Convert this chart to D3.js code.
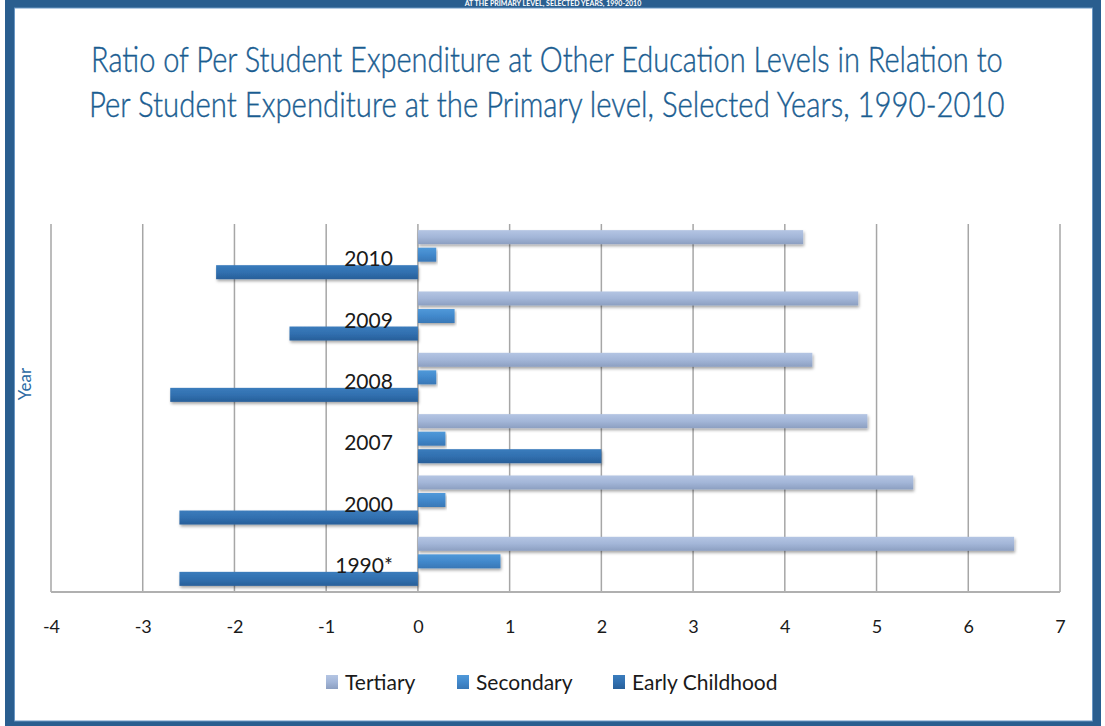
<!DOCTYPE html>
<html>
<head>
<meta charset="utf-8">
<script src="https://cdn.jsdelivr.net/npm/d3@7"></script>
<style>
  html, body { margin: 0; padding: 0; background: #ffffff; }
  svg { display: block; }
</style>
</head>
<body>
<div id="chart"></div>
<script>
// ---- Data ----
const categories = ["2010", "2009", "2008", "2007", "2000", "1990*"];
const seriesNames = ["Tertiary", "Secondary", "Early Childhood"];
const tertiary = [4.2, 4.8, 4.3, 4.9, 5.4, 6.5];
const secondary = [0.2, 0.4, 0.2, 0.3, 0.3, 0.9];
const earlyChildhood = [-2.2, -1.4, -2.7, 2.0, -2.6, -2.6];
const xTicks = [-4, -3, -2, -1, 0, 1, 2, 3, 4, 5, 6, 7];
const titleLines = [
  "Ratio of Per Student Expenditure at Other Education Levels in Relation to",
  "Per Student Expenditure at the Primary level, Selected Years, 1990-2010"
];
const topCutText = "AT THE PRIMARY LEVEL, SELECTED YEARS, 1990-2010";
const yAxisTitle = "Year";

const seriesValues = [tertiary, secondary, earlyChildhood];
const rows = categories.map((c, i) => ({
  cat: c,
  vals: seriesNames.map((s, j) => ({ series: s, value: seriesValues[j][i] }))
}));

// ---- Layout ----
const W = 1105, H = 726;
const plot = { left: 51, right: 1060, top: 224, bottom: 592 };

const svg = d3.select("#chart").append("svg")
  .attr("width", W).attr("height", H);

const defs = svg.append("defs");
const grads = {
  "Tertiary": ["#b4c5e3", "#a3b6d8", "#8c9fc1"],
  "Secondary": ["#5099d9", "#4289cc", "#3877b6"],
  "Early Childhood": ["#3b7cbc", "#3170b0", "#285f99"]
};
const legendFill = {};
Object.keys(grads).forEach((k, i) => {
  const id = "g" + i;
  const g = defs.append("linearGradient").attr("id", id)
    .attr("x1", 0).attr("y1", 0).attr("x2", 0).attr("y2", 1);
  g.append("stop").attr("offset", "0%").attr("stop-color", grads[k][0]);
  g.append("stop").attr("offset", "50%").attr("stop-color", grads[k][1]);
  g.append("stop").attr("offset", "100%").attr("stop-color", grads[k][2]);
  legendFill[k] = "url(#" + id + ")";
});
const flt = defs.append("filter").attr("id", "shadow")
  .attr("x", "-5%").attr("y", "-40%").attr("width", "110%").attr("height", "200%");
flt.append("feDropShadow").attr("dx", 1).attr("dy", 2).attr("stdDeviation", 1.5)
  .attr("flood-color", "#000").attr("flood-opacity", 0.35);

// ---- Frame ----
svg.append("rect").attr("x", 5).attr("y", 0).attr("width", 1096).attr("height", 726)
  .attr("fill", "#2a5e8f");
svg.append("rect").attr("x", 14).attr("y", 7.5).attr("width", 1079).attr("height", 714)
  .attr("fill", "#6a97c4");
svg.append("rect").attr("x", 15).attr("y", 8.5).attr("width", 1077).attr("height", 712)
  .attr("fill", "#ffffff");

svg.append("text").attr("x", 553).attr("y", 6)
  .attr("text-anchor", "middle")
  .attr("font-family", "Lato, sans-serif").attr("font-weight", "bold")
  .attr("font-size", 7).attr("fill", "#ffffff")
  .text(topCutText);

// ---- Title (scaled horizontally to the reference's condensed width) ----
const titleX = [[91, 1003], [89, 1005]];
const titleY = [72, 117];
titleLines.forEach((t, i) => {
  const g = svg.append("g");
  const txt = g.append("text")
    .attr("x", 0).attr("y", 0)
    .attr("font-family", "Lato, 'Open Sans', sans-serif")
    .attr("font-weight", 300)
    .attr("font-size", 35)
    .attr("fill", "#1a5d91")
    .attr("stroke", "#1a5d91").attr("stroke-width", 0.4)
    .text(t);
  const natural = txt.node().getComputedTextLength();
  const target = titleX[i][1] - titleX[i][0];
  const sx = natural > 0 ? target / natural : 1;
  g.attr("transform", `translate(${titleX[i][0]},${titleY[i]}) scale(${sx},1)`);
});

// ---- Scales ----
const x = d3.scaleLinear().domain([-4, 7]).range([plot.left, plot.right]);
const y = d3.scaleBand().domain(categories).range([plot.top, plot.bottom]).padding(0);
const ySub = d3.scaleBand().domain(seriesNames).range([0, y.bandwidth()])
  .paddingInner(0.2).paddingOuter(0.35);

// ---- Gridlines ----
const grid = svg.append("g");
grid.selectAll("line").data(xTicks).join("line")
  .attr("x1", d => x(d)).attr("x2", d => x(d))
  .attr("y1", plot.top).attr("y2", plot.bottom)
  .attr("stroke", "#a6a6a6").attr("stroke-width", 1.5);
grid.append("line")
  .attr("x1", plot.left).attr("x2", plot.right)
  .attr("y1", plot.bottom).attr("y2", plot.bottom)
  .attr("stroke", "#b0b0b0").attr("stroke-width", 2);

// ---- X axis labels ----
const xAxis = d3.axisBottom(x).tickValues(xTicks).tickSize(0).tickPadding(0)
  .tickFormat(d => d < 0 ? "-" + Math.abs(d) : String(d));
const xg = svg.append("g").attr("transform", `translate(0,${plot.bottom})`).call(xAxis);
xg.select(".domain").remove();
xg.selectAll("text")
  .attr("y", 41).attr("dy", 0)
  .attr("font-family", "Lato, sans-serif").attr("font-size", 18)
  .attr("fill", "#1a1a1a");

// ---- Bars ----
const groups = svg.append("g").selectAll("g").data(rows).join("g")
  .attr("transform", d => `translate(0,${y(d.cat)})`);
groups.selectAll("rect").data(d => d.vals).join("rect")
  .attr("x", d => x(Math.min(0, d.value)))
  .attr("y", d => ySub(d.series))
  .attr("width", d => Math.abs(x(d.value) - x(0)))
  .attr("height", ySub.bandwidth())
  .attr("fill", d => legendFill[d.series])
  .attr("filter", "url(#shadow)");

// ---- Category labels ----
const yAxis = d3.axisLeft(y).tickSize(0).tickPadding(0);
const yg = svg.append("g").attr("transform", `translate(${x(0)},0)`).call(yAxis);
yg.select(".domain").remove();
yg.selectAll("text")
  .attr("x", -25).attr("dy", "0.55em")
  .attr("font-family", "Lato, sans-serif").attr("font-size", 21)
  .attr("fill", "#1a1a1a");

// ---- Y axis title ----
svg.append("text")
  .attr("transform", "translate(31,384) rotate(-90)")
  .attr("text-anchor", "middle")
  .attr("font-family", "Lato, sans-serif").attr("font-size", 17)
  .attr("fill", "#2a6aa3")
  .text(yAxisTitle);

// ---- Legend ----
const legendX = [326, 457, 613];
const lg = svg.append("g");
seriesNames.forEach((s, i) => {
  lg.append("rect").attr("x", legendX[i]).attr("y", 675)
    .attr("width", 12).attr("height", 14)
    .attr("fill", legendFill[s]);
  lg.append("text").attr("x", legendX[i] + 19).attr("y", 690)
    .attr("font-family", "Lato, sans-serif").attr("font-size", 21)
    .attr("fill", "#1a1a1a")
    .text(s);
});
</script>
</body>
</html>
